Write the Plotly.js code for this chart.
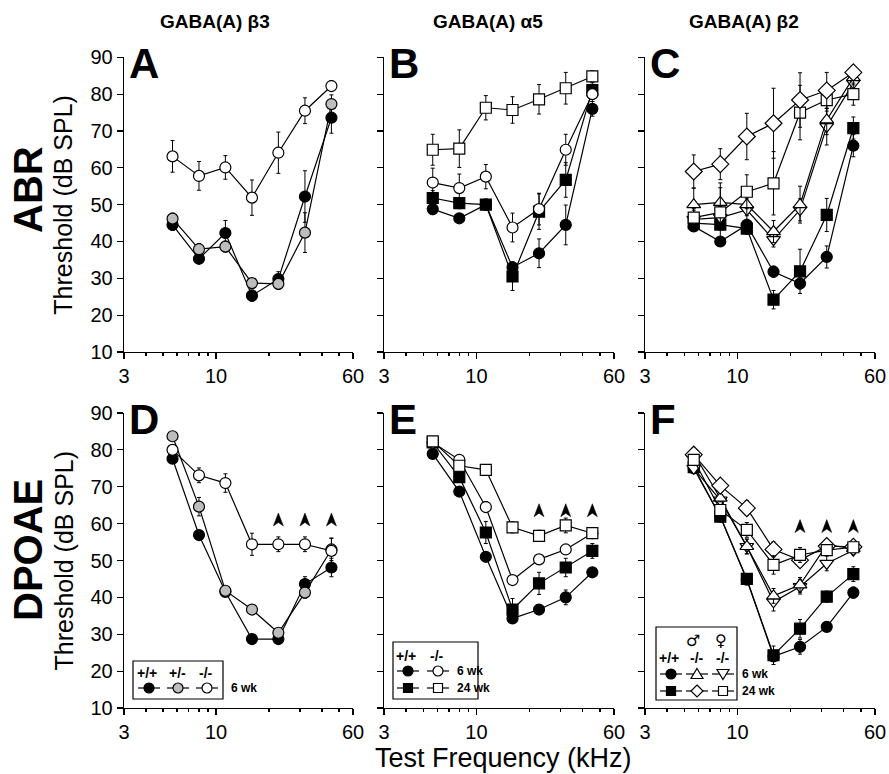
<!DOCTYPE html>
<html><head><meta charset="utf-8">
<script src="https://cdn.plot.ly/plotly-3.0.1.min.js"></script>
<style>body{margin:0;background:#fff}</style>
</head><body><div id="chart" style="width:889px;height:774px"></div>
<script>
const W = 889, H = 774;
const freq = [5.66, 8, 11.3, 16, 22.6, 32, 45.25];
const xTicks = [3, 10, 60];
const xMinor = [4, 5, 6, 7, 8, 9, 20, 30, 40, 50];
const colTitles = ['GABA(A) \u03B23', 'GABA(A) \u03B15', 'GABA(A) \u03B22'];
const rowTitles = ['ABR', 'DPOAE'];
const panelLetters = ['A', 'B', 'C', 'D', 'E', 'F'];

// Panel A: ABR, GABA(A) b3
const abrB3_wt = [44.5, 35.3, 42.3, 25.3, 29.8, 52.2, 73.6];
const abrB3_wtErr = [1.5, 1, 3.4, 1.5, 2, 7, 4.2];
const abrB3_het = [46.2, 37.9, 38.6, 28.7, 28.5, 42.4, 77.3];
const abrB3_hetErr = [1.5, 1.5, 1.5, 1, 1.5, 5.4, 2.5];
const abrB3_ko = [63.1, 57.8, 60.1, 51.9, 64.1, 75.5, 82.2];
const abrB3_koErr = [4.3, 3.9, 3.2, 4.8, 5.6, 3.5, 1.5];

// Panel B: ABR, GABA(A) a5
const abrA5_wt6 = [48.8, 46.3, 50, 33, 36.8, 44.5, 76];
const abrA5_wt6Err = [1.5, 1, 1, 1.5, 3.9, 5.4, 2];
const abrA5_wt24 = [51.8, 50.4, 50, 30.5, 48.1, 56.7, 81.1];
const abrA5_wt24Err = [2, 1.5, 1.5, 3.8, 4.8, 4.7, 2];
const abrA5_ko6 = [56, 54.5, 57.6, 43.8, 48.8, 64.9, 80];
const abrA5_ko6Err = [3.9, 3.8, 3.3, 3.9, 4.3, 4.2, 2];
const abrA5_ko24 = [64.9, 65.2, 76.3, 75.7, 78.6, 81.6, 84.8];
const abrA5_ko24Err = [4.2, 5.1, 3.3, 3.6, 4, 4.3, 1.5];

// Panel C: ABR, GABA(A) b2
const abrB2_wt6 = [44.1, 40, 44.5, 31.8, 28.6, 35.8, 66];
const abrB2_wt6Err = [1, 1, 1.5, 1.5, 1.5, 3, 3];
const abrB2_wt24 = [45, 44.6, 43.5, 24.2, 31.9, 47.2, 70.8];
const abrB2_wt24Err = [1.5, 1.5, 1.5, 2.5, 6, 4.5, 3];
const abrB2_m6 = [50, 50.6, 50, 42.7, 50, 73, 84.5];
const abrB2_m6Err = [4.5, 4, 3, 3, 5, 4, 2];
const abrB2_f6 = [46, 46.5, 48.6, 40.5, 48.6, 71.2, 83];
const abrB2_f6Err = [3, 3, 3, 2, 3, 5, 3];
const abrB2_m24 = [59, 61, 68.5, 72.1, 78.4, 81, 85.9];
const abrB2_m24Err = [4.5, 4.2, 6.3, 9.5, 7.4, 4.9, 1.5];
const abrB2_f24 = [46.5, 47.9, 53.5, 55.8, 75, 78.4, 80];
const abrB2_f24Err = [2, 8, 4.6, 8.6, 7.4, 3, 3];

// Panel D: DPOAE, GABA(A) b3
const dpB3_wt = [77.6, 56.9, 41.5, 28.7, 28.7, 43.6, 48.1];
const dpB3_wtErr = [1, 1, 1, 1, 1, 2, 2.5];
const dpB3_het = [83.7, 64.6, 41.8, 36.7, 30.4, 41.3, 53];
const dpB3_hetErr = [1, 2.5, 1, 1, 1, 1.5, 3];
const dpB3_ko = [80, 73.1, 71, 54.4, 54.4, 54.4, 52.6];
const dpB3_koErr = [1, 2, 2.5, 3, 2, 2, 3.5];

// Panel E: DPOAE, GABA(A) a5
const dpA5_wt6 = [78.9, 68.7, 51, 34.3, 36.7, 40, 46.8];
const dpA5_wt6Err = [1, 1, 1, 1, 1, 2, 1];
const dpA5_wt24 = [82, 72.6, 57.6, 36.7, 43.8, 48.1, 52.6];
const dpA5_wt24Err = [1, 1, 3, 3, 3, 2.5, 2];
const dpA5_ko6 = [82, 77.3, 64.5, 44.7, 50.3, 53, 57.4];
const dpA5_ko6Err = [1, 1, 1.5, 1, 1, 1, 1];
const dpA5_ko24 = [82.3, 75.7, 74.6, 59, 56.7, 59.5, 57.4];
const dpA5_ko24Err = [1, 1, 1, 1.5, 1.5, 2, 1];

// Panel F: DPOAE, GABA(A) b2
const dpB2_wt6 = [75, 61.9, 44.8, 24, 26.6, 32, 41.3];
const dpB2_wt6Err = [1, 1, 1, 1, 2, 1, 1.5];
const dpB2_wt24 = [75.3, 61.9, 45, 24.3, 31.5, 40.2, 46.3];
const dpB2_wt24Err = [1, 1, 1, 2.5, 2.5, 1.5, 2];
const dpB2_m6 = [79, 66.9, 53.8, 40.4, 43.4, 54.2, 53.3];
const dpB2_m6Err = [1, 1, 2, 2, 2, 1.5, 1];
const dpB2_f6 = [75, 66.4, 53.8, 38.8, 42.9, 49.2, 52.8];
const dpB2_f6Err = [1, 1, 2, 2.5, 2, 2, 1];
const dpB2_m24 = [78.7, 70.3, 64.2, 53, 50.1, 53.9, 53.7];
const dpB2_m24Err = [1, 1, 2, 2, 1, 1, 1];
const dpB2_f24 = [77.3, 63.7, 58.3, 48.8, 51.5, 52.8, 53.6];
const dpB2_f24Err = [1, 1, 2, 2.5, 2, 1.5, 1];

// significance arrowheads
const sigFreq = [22.6, 32, 45.25];
const sigD = [61, 61, 61];
const sigE = [63.5, 63.5, 63.5];
const sigF = [59.2, 59.2, 59.2];

const FONT = 'Liberation Sans, Arial, Helvetica, sans-serif';
const GRAY = '#bdbdbd';
const X = v => v / W, Y = v => 1 - v / H;

function series(ax, y, err, symbol, fill, size) {
  return {
    type: 'scatter', mode: 'lines+markers', x: freq, y: y,
    xaxis: 'x' + ax, yaxis: 'y' + ax,
    line: {color: 'black', width: 1.2},
    marker: {symbol: symbol, size: size || 11, color: fill, line: {color: 'black', width: 1.2}},
    error_y: {type: 'data', array: err, visible: true, color: 'black', thickness: 1, width: 2},
    cliponaxis: false, showlegend: false, hoverinfo: 'skip'
  };
}

const traces = [
  series('', abrB3_wt, abrB3_wtErr, 'circle', 'black'),
  series('', abrB3_het, abrB3_hetErr, 'circle', GRAY),
  series('', abrB3_ko, abrB3_koErr, 'circle', 'white'),

  series('2', abrA5_wt6, abrA5_wt6Err, 'circle', 'black'),
  series('2', abrA5_wt24, abrA5_wt24Err, 'square', 'black'),
  series('2', abrA5_ko6, abrA5_ko6Err, 'circle', 'white'),
  series('2', abrA5_ko24, abrA5_ko24Err, 'square', 'white'),

  series('3', abrB2_wt6, abrB2_wt6Err, 'circle', 'black'),
  series('3', abrB2_wt24, abrB2_wt24Err, 'square', 'black'),
  series('3', abrB2_f6, abrB2_f6Err, 'triangle-down', 'white', 12),
  series('3', abrB2_m6, abrB2_m6Err, 'triangle-up', 'white', 12),
  series('3', abrB2_f24, abrB2_f24Err, 'square', 'white'),
  series('3', abrB2_m24, abrB2_m24Err, 'diamond', 'white', 13),

  series('4', dpB3_wt, dpB3_wtErr, 'circle', 'black'),
  series('4', dpB3_het, dpB3_hetErr, 'circle', GRAY),
  series('4', dpB3_ko, dpB3_koErr, 'circle', 'white'),

  series('5', dpA5_wt6, dpA5_wt6Err, 'circle', 'black'),
  series('5', dpA5_wt24, dpA5_wt24Err, 'square', 'black'),
  series('5', dpA5_ko6, dpA5_ko6Err, 'circle', 'white'),
  series('5', dpA5_ko24, dpA5_ko24Err, 'square', 'white'),

  series('6', dpB2_wt6, dpB2_wt6Err, 'circle', 'black'),
  series('6', dpB2_wt24, dpB2_wt24Err, 'square', 'black'),
  series('6', dpB2_f6, dpB2_f6Err, 'triangle-down', 'white', 12),
  series('6', dpB2_m6, dpB2_m6Err, 'triangle-up', 'white', 12),
  series('6', dpB2_m24, dpB2_m24Err, 'diamond', 'white', 13),
  series('6', dpB2_f24, dpB2_f24Err, 'square', 'white')
];

const colPx = [[124, 353], [384, 614], [645, 875]];
const rowPx = [[57.3, 352], [413, 708]];

const layout = {
  width: W, height: H, margin: {l: 0, r: 0, t: 0, b: 0},
  paper_bgcolor: 'white', plot_bgcolor: 'rgba(0,0,0,0)',
  font: {family: FONT, color: 'black'},
  showlegend: false, annotations: [], shapes: []
};
for (let r = 0; r < 2; r++) {
  for (let c = 0; c < 3; c++) {
    const i = r * 3 + c + 1;
    const id = i === 1 ? '' : String(i);
    layout['xaxis' + id] = {
      type: 'log', range: [Math.log10(3), Math.log10(60)],
      domain: [X(colPx[c][0]), X(colPx[c][1])], anchor: 'y' + id,
      tickmode: 'array', tickvals: xTicks, ticktext: xTicks.map(String),
      ticks: 'outside', ticklen: 6, tickwidth: 1.2, tickcolor: 'black',
      minor: {tickmode: 'array', tickvals: xMinor, ticks: 'outside', ticklen: 3, tickwidth: 1.2, tickcolor: 'black'},
      showline: true, linewidth: 1.3, linecolor: 'black', showgrid: false, zeroline: false,
      tickfont: {size: 20, family: FONT}, fixedrange: true
    };
    layout['yaxis' + id] = {
      range: [10, 90], dtick: 10, tick0: 10,
      domain: [Y(rowPx[r][1]), Y(rowPx[r][0])], anchor: 'x' + id,
      ticks: 'outside', ticklen: 6, tickwidth: 1.2, tickcolor: 'black',
      showline: true, linewidth: 1.3, linecolor: 'black', showgrid: false, zeroline: false,
      showticklabels: c === 0, tickfont: {size: 20, family: FONT}, fixedrange: true
    };
    layout.annotations.push({
      xref: 'paper', yref: 'paper', x: X(colPx[c][0] + 3), y: Y(rowPx[r][0] - 19),
      xanchor: 'left', yanchor: 'top', showarrow: false,
      text: '<b>' + panelLetters[i - 1] + '</b>', font: {size: 42, family: FONT}
    });
  }
}
// significance arrowheads: pixel-sized paths anchored at data positions
[['4', sigD], ['5', sigE], ['6', sigF]].forEach(([ax, ys]) => {
  sigFreq.forEach((f, k) => layout.shapes.push({
    type: 'path', xref: 'x' + ax, yref: 'y' + ax,
    xsizemode: 'pixel', ysizemode: 'pixel', xanchor: f, yanchor: ys[k],
    path: 'M0,7 L5,-6 L0,-2.5 L-5,-6 Z',
    fillcolor: 'black', line: {color: 'black', width: 0.5}, layer: 'above'
  }));
});

const colCenters = [215, 488, 744];
colTitles.forEach((t, c) => layout.annotations.push({
  xref: 'paper', yref: 'paper', x: X(colCenters[c]), y: Y(22), xanchor: 'center', yanchor: 'middle',
  showarrow: false, text: '<b>' + t + '</b>', font: {size: 19, family: FONT}
}));
rowTitles.forEach((t, r) => layout.annotations.push({
  xref: 'paper', yref: 'paper', x: X(28), y: Y(r === 0 ? 190 : 550), xanchor: 'center', yanchor: 'middle',
  showarrow: false, textangle: -90, text: '<b>' + t + '</b>', font: {size: 40, family: FONT}
}));
[0, 1].forEach(r => layout.annotations.push({
  xref: 'paper', yref: 'paper', x: X(63), y: Y((rowPx[r][0] + rowPx[r][1]) / 2), xanchor: 'center', yanchor: 'middle',
  showarrow: false, textangle: -90, text: 'Threshold (dB SPL)', font: {size: 25, family: FONT}
}));
layout.annotations.push({
  xref: 'paper', yref: 'paper', x: X(503), y: Y(758), xanchor: 'center', yanchor: 'middle',
  showarrow: false, text: 'Test Frequency (kHz)', font: {size: 27, family: FONT}
});

// ---- legend keys (drawn with shapes & text) ----
function txt(x, y, t, size, anchor, fam) {
  layout.annotations.push({xref: 'paper', yref: 'paper', x: X(x), y: Y(y), xanchor: anchor || 'center', yanchor: 'middle',
    showarrow: false, text: t, font: {size: size || 12, family: fam || FONT}});
}
function box(x0, y0, x1, y1) {
  layout.shapes.push({type: 'rect', xref: 'paper', yref: 'paper', x0: X(x0), x1: X(x1), y0: Y(y1), y1: Y(y0),
    line: {color: 'black', width: 1.2}, fillcolor: 'white', layer: 'above'});
}
function seg(cx, cy) {
  layout.shapes.push({type: 'line', xref: 'paper', yref: 'paper', x0: X(cx - 11), x1: X(cx + 11), y0: Y(cy), y1: Y(cy),
    line: {color: 'black', width: 1.2}, layer: 'above'});
}
function sym(kind, cx, cy, fill) {
  seg(cx, cy);
  const r = 5;
  const base = {xref: 'paper', yref: 'paper', line: {color: 'black', width: 1.2}, fillcolor: fill, layer: 'above'};
  let s;
  if (kind === 'circle') s = Object.assign({type: 'circle', x0: X(cx - r), x1: X(cx + r), y0: Y(cy + r), y1: Y(cy - r)}, base);
  else if (kind === 'square') s = Object.assign({type: 'rect', x0: X(cx - 4.5), x1: X(cx + 4.5), y0: Y(cy + 4.5), y1: Y(cy - 4.5)}, base);
  else {
    let pts;
    if (kind === 'up') pts = [[cx, cy - 5.5], [cx + 6, cy + 4.5], [cx - 6, cy + 4.5]];
    else if (kind === 'down') pts = [[cx, cy + 5.5], [cx + 6, cy - 4.5], [cx - 6, cy - 4.5]];
    else pts = [[cx, cy - 6], [cx + 6, cy], [cx, cy + 6], [cx - 6, cy]];
    s = Object.assign({type: 'path', path: 'M' + pts.map(p => X(p[0]) + ',' + Y(p[1])).join('L') + 'Z'}, base);
  }
  layout.shapes.push(s);
}
// D legend
box(133, 661, 223, 699);
txt(147, 673, '<b>+/+</b>', 14); txt(177, 673, '<b>+/-</b>', 14); txt(206, 673, '<b>-/-</b>', 14);
sym('circle', 149, 688, 'black'); sym('circle', 178, 688, GRAY); sym('circle', 207, 688, 'white');
txt(229, 688, '<b>6 wk</b>', 12, 'left');
// E legend
box(393, 642, 478, 699);
txt(406, 656, '<b>+/+</b>', 14); txt(437, 656, '<b>-/-</b>', 14);
sym('circle', 408, 671, 'black'); sym('circle', 438, 671, 'white');
sym('square', 408, 688, 'black'); sym('square', 438, 688, 'white');
txt(455, 671, '<b>6 wk</b>', 12, 'left'); txt(455, 688, '<b>24 wk</b>', 12, 'left');
// F legend
box(656, 627, 737, 700);
txt(693, 640, '\u2642', 16, 'center', 'DejaVu Sans'); txt(721, 640, '\u2640', 16, 'center', 'DejaVu Sans');
txt(669, 658, '<b>+/+</b>', 14); txt(697, 658, '<b>-/-</b>', 14); txt(723, 658, '<b>-/-</b>', 14);
sym('circle', 671, 674, 'black'); sym('up', 697, 674, 'white'); sym('down', 723, 674, 'white');
sym('square', 671, 691, 'black'); sym('diamond', 697, 691, 'white'); sym('square', 723, 691, 'white');
txt(740, 674, '<b>6 wk</b>', 12, 'left'); txt(740, 691, '<b>24 wk</b>', 12, 'left');

Plotly.newPlot('chart', traces, layout, {staticPlot: true, displayModeBar: false});
</script></body></html>
